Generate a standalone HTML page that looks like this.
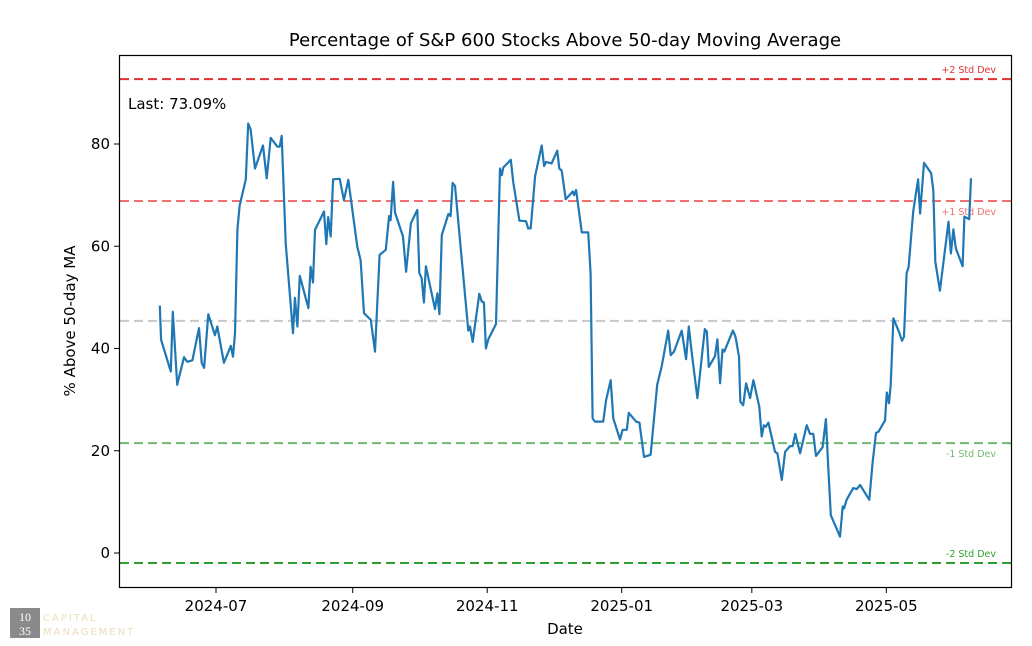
<!DOCTYPE html>
<html><head><meta charset="utf-8"><style>
body{margin:0;background:#fff;}
svg{display:block;font-family:"DejaVu Sans","Liberation Sans",sans-serif;}
</style></head><body>
<svg id="chart" width="1032" height="646">
<rect x="0" y="0" width="1032" height="646" fill="#fff"/>
<text x="565" y="46" font-size="18" text-anchor="middle" fill="#000">Percentage of S&amp;P 600 Stocks Above 50-day Moving Average</text>
<g id="refs"></g>
<path id="line" fill="none" stroke="#1f77b4" stroke-width="2.2" stroke-linejoin="round"/>
<rect x="119.5" y="55.5" width="892" height="532" fill="none" stroke="#000" stroke-width="1.2"/>
<g id="yticks"></g>
<g id="xticks"></g>
<text x="128" y="109" font-size="15" fill="#000">Last: 73.09%</text>
<text x="75" y="321" font-size="15" text-anchor="middle" transform="rotate(-90 75 321)">% Above 50-day MA</text>
<text x="565" y="634" font-size="15" text-anchor="middle">Date</text>
<g>
<rect x="10" y="608" width="30" height="30" fill="#8a8a8a"/>
<text x="25" y="621" font-size="12" font-family="Liberation Serif,serif" fill="#fff" text-anchor="middle">10</text>
<text x="25" y="635" font-size="12" font-family="Liberation Serif,serif" fill="#fff" text-anchor="middle">35</text>
<text x="43" y="621" font-size="10" fill="#eadfb8" letter-spacing="2">CAPITAL</text>
<text x="43" y="635" font-size="10" fill="#eadfb8" letter-spacing="2">MANAGEMENT</text>
</g>
</svg>
<script>
// days since 2024-07-01
const dayOffsets=[-25.5,-24.9,-20.5,-19.6,-17.6,-14.5,-13,-10.7,-7.7,-6.5,-5.4,-3.5,-0.5,0.6,3.6,6.7,7.7,8.6,9.7,10.7,13.5,14.6,15.7,17.7,21.3,23,24.8,27.8,28.9,29.8,31.6,34.9,35.8,36.9,38,41.9,42.9,44,44.9,49,50,50.9,52,53.1,56.1,58,60,64.1,65.6,67.1,70.2,72.1,74.2,77,78.5,79.2,80.3,81.2,84.8,86.2,88.4,91.3,92.2,93.3,94.3,95.2,99.3,100.4,101.3,102.4,105.4,106.4,107.3,108.4,114.4,115.2,116.4,119.4,120.5,121.5,122.4,123.5,127,128.8,129.6,130.3,133.7,134.8,137.6,140.6,141.6,142.7,144.7,147.7,148.8,149.7,152.2,154.8,155.7,156.8,158.6,161.8,162.4,163.3,165.9,168.8,169.9,170.8,171.9,175.6,176.9,179,180.2,183.2,184.4,186.3,187.2,190.5,192,194.1,197.1,200.1,202.1,205.1,206.2,207.7,211.2,213.2,214.4,215.7,218.3,221.7,222.6,223.5,226.3,227.4,228.6,229.7,230.5,234.4,235.6,237.2,237.8,239.1,240.4,242.2,243.7,246.4,247.5,248.5,249.4,250.5,253.5,254.6,256.6,258.1,260.3,261.5,262.7,264.9,267.9,269.4,270.9,272.1,275.1,276.6,277.7,278.8,283,284.2,284.8,286,289,290.6,292.1,296.3,297.8,299.3,300.4,303.4,304.2,305.2,306,307.2,309.9,311.1,312,313.2,314.1,316.2,318.4,319.3,321.1,324.3,325.3,326.2,328.3,332.2,333.3,334.4,335.5,338.6,339.4,341.6,342.4];
const pctValues=[48.4,41.7,35.5,47.2,32.9,38.3,37.4,37.7,44,37.2,36.2,46.7,42.6,44.3,37.2,40.5,38.4,43,63.2,67.9,73.1,84,82.9,75.2,79.7,73.3,81.2,79.5,79.5,81.6,60.6,43,49.9,44.3,54.2,47.9,56,52.9,63.2,66.8,60.4,65.7,61.9,73.1,73.2,69,73,59.9,57.3,46.9,45.6,39.4,58.3,59.3,65.9,65.1,72.6,66.6,61.9,55,64.5,67.1,54.8,53.7,49,56.1,47.7,50.8,46.7,62.2,66.3,65.9,72.4,71.8,43.5,44.3,41.3,50.7,49.2,49,40,41.8,44.8,75.2,73.9,75.4,76.9,72.6,65,64.9,63.5,63.5,73.7,79.7,75.7,76.5,76.2,78.7,75.2,74.8,69.2,70.7,70,71,62.7,62.7,54.7,26.3,25.7,25.7,29.9,33.8,26.3,22.2,24.1,24.1,27.4,25.7,25.5,18.8,19.2,32.9,36.4,43.5,38.7,39.4,43.5,37.9,44.3,39.4,30.3,43.8,43.3,36.4,38.5,41.8,33.2,39.8,39.4,43.5,42.3,38.4,29.6,28.9,33.2,30.3,33.8,28.6,22.8,25,24.7,25.5,19.8,19.5,14.3,19.8,20.9,20.9,23.3,19.5,25,23.3,23.3,19,20.7,26.2,16.6,7.4,3.2,9.1,8.7,10.4,12.7,12.5,13.3,10.4,17.7,23.5,23.7,25.9,31.4,29.3,32.9,45.9,43.1,41.5,42.3,54.7,55.9,66.8,73.1,66.4,76.3,74.3,71,57,51.3,64.8,58.6,63.3,59.6,56.1,65.8,65.3,73.3];
const refValues=[92.7,68.85,45.4,21.5,-1.95];
const refLabels=["+2 Std Dev","+1 Std Dev","","-1 Std Dev","-2 Std Dev"];
const refColors=["#e03030","#f07070","#c8c8c8","#70b870","#30a030"];
const yTicks=[0,20,40,60,80];
const xTickDays=[0,62,123,184,243,304];
const xTickLabels=["2024-07","2024-09","2024-11","2025-01","2025-03","2025-05"];

const NS="http://www.w3.org/2000/svg";
function xs(d){return 216+d*2.205;}
function ys(v){return 553-5.1125*v;}
function mk(tag,attrs,parent){const e=document.createElementNS(NS,tag);for(const k in attrs)e.setAttribute(k,attrs[k]);parent.appendChild(e);return e;}

const refs=document.getElementById('refs');
refValues.forEach((v,i)=>{
  const l=mk('line',{x1:120,x2:1011,y1:ys(v),y2:ys(v),stroke:refColors[i],'stroke-width':2,'stroke-dasharray':'9,5'},refs);
  
  
  if(refLabels[i]){
    const above=(i===0||i===4);
    const t=mk('text',{x:996,y:above?ys(v)-6:ys(v)+14,'font-size':9.5,'text-anchor':'end',fill:refColors[i]},refs);
    t.textContent=refLabels[i];
    
    
  }
});

let d='';
dayOffsets.forEach((x,i)=>{d+=(i?'L':'M')+xs(x).toFixed(1)+','+ys(pctValues[i]).toFixed(1);});
document.getElementById('line').setAttribute('d',d);

const yg=document.getElementById('yticks');
yTicks.forEach(v=>{
  const l=mk('line',{x1:114,x2:119.5,y1:ys(v),y2:ys(v),stroke:'#000','stroke-width':1},yg);
  
  
  const t=mk('text',{x:110,y:ys(v)+5,'font-size':15,'text-anchor':'end'},yg);
  t.textContent=v;
  
  
});
const xg=document.getElementById('xticks');
xTickDays.forEach((dd,i)=>{
  const l=mk('line',{x1:xs(dd),x2:xs(dd),y1:587.5,y2:593,stroke:'#000','stroke-width':1},xg);
  
  
  const t=mk('text',{x:xs(dd),y:611,'font-size':15,'text-anchor':'middle'},xg);
  t.textContent=xTickLabels[i];
  
  
});
</script>
</body></html>
